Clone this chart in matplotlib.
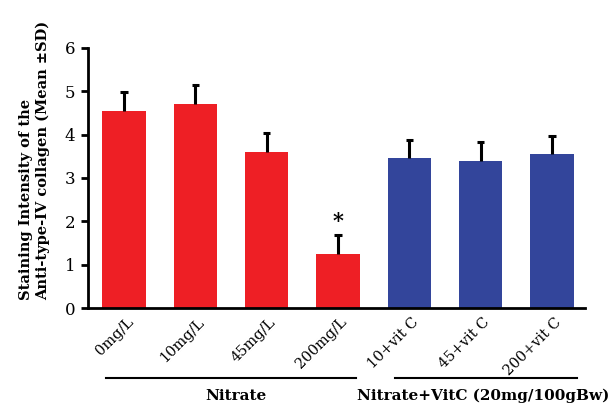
import numpy as np
import matplotlib.pyplot as plt
import matplotlib.transforms as mtransforms

plt.rcParams['font.family'] = ['DejaVu Serif']

labels = ["0mg/L", "10mg/L", "45mg/L", "200mg/L", "10+vit C", "45+vit C", "200+vit C"]
means = [4.55, 4.70, 3.60, 1.25, 3.45, 3.40, 3.55]
sds = [0.43, 0.45, 0.44, 0.44, 0.43, 0.43, 0.42]
colors = ["#ee1f25"] * 4 + ["#33459b"] * 3
groups = ["Nitrate", "Nitrate+VitC (20mg/100gBw)"]

fig = plt.figure(figsize=(6.13, 4.05), dpi=100)
ax = fig.add_axes([0.1436, 0.2395, 0.8104, 0.642])

x = np.arange(len(labels))
means = np.array(means)
sds = np.array(sds)
ax.bar(x, means, width=0.61, color=colors, edgecolor="none", zorder=2)
# upper error bars only
ax.vlines(x, means, means + sds, color="black", lw=2.2, zorder=3)
ax.hlines(means + sds, x - 0.05, x + 0.05, color="black", lw=2.2, zorder=3)
ax.text(3, means[3] + sds[3] + 0.32, "*", ha="center", va="center",
        fontsize=15, fontweight="bold")

ax.set_xlim(-0.504, 6.46)
ax.set_ylim(0, 6)
ax.set_yticks(range(7))
ax.tick_params(axis="y", direction="out", length=5, width=2, labelsize=12, pad=4)
ax.tick_params(axis="x", length=0)
ax.set_xticks(x)
ax.set_xticklabels(labels, rotation=45, ha="right", va="center",
                   rotation_mode="anchor", fontsize=10.5)
offset = mtransforms.ScaledTranslation(0.07, -0.07, fig.dpi_scale_trans)
for lab in ax.get_xticklabels():
    lab.set_transform(lab.get_transform() + offset)

for s in ["top", "right"]:
    ax.spines[s].set_visible(False)
ax.spines["left"].set_linewidth(2)
ax.spines["bottom"].set_linewidth(2)

# group brackets
ax.plot([-0.25, 3.25], [-1.62, -1.62], color="black", lw=1.5, clip_on=False)
ax.plot([3.8, 6.35], [-1.62, -1.62], color="black", lw=1.5, clip_on=False)
ax.text(1.57, -2.02, groups[0], ha="center", va="center", fontsize=11, fontweight="bold")
ax.text(5.03, -2.02, groups[1], ha="center", va="center", fontsize=11, fontweight="bold")

fig.text(0.056, 0.259, "Staining Intensity of the\nAnti-type-IV collagen (Mean \u00b1SD)",
         rotation=90, ha="center", va="bottom", multialignment="left",
         fontsize=10.5, fontweight="bold", linespacing=1.2)

fig.savefig("out.png", dpi=100)
